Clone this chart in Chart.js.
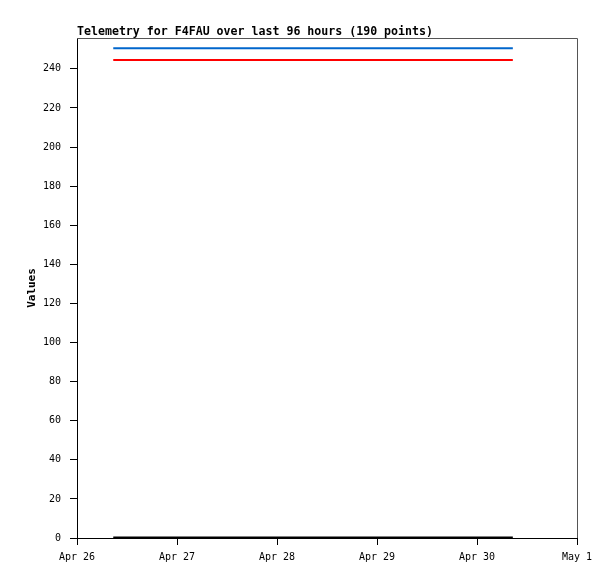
<!DOCTYPE html>
<html>
<head>
<meta charset="utf-8">
<script src="https://cdn.jsdelivr.net/npm/chart.js@4"></script>
<style>
  html, body { margin: 0; padding: 0; background: #fff; }
  #wrap { width: 615px; height: 579px; }
</style>
</head>
<body>
<div id="wrap"><canvas id="telemetryChart" width="615" height="579"></canvas></div>
<script>
/* Telemetry for F4FAU, hours counted from Apr 26 00:00 */
var hours = [8.7, 32.7, 56.7, 80.7, 104.6];
var blueValues = [250.5, 250.5, 250.5, 250.5, 250.5];
var redValues = [244.5, 244.5, 244.5, 244.5, 244.5];
var blackValues = [0.3, 0.3, 0.3, 0.3, 0.3];

var xTickHours = [0, 24, 48, 72, 96, 120];
var xTickLabels = ["Apr 26", "Apr 27", "Apr 28", "Apr 29", "Apr 30", "May 1"];
var yTicks = [0, 20, 40, 60, 80, 100, 120, 140, 160, 180, 200, 220, 240];

var titleText = "Telemetry for F4FAU over last 96 hours (190 points)";
var monoFont = "'DejaVu Sans Mono', 'Liberation Mono', monospace";

function pts(values) {
  return hours.map(function (h, i) { return {x: h, y: values[i]}; });
}

// frame + title drawn around the chart area
var framePlugin = {
  id: "frame",
  afterDraw: function (chart) {
    var a = chart.chartArea, ctx = chart.ctx;
    ctx.save();
    ctx.strokeStyle = "#555555";
    ctx.lineWidth = 1;
    ctx.beginPath();
    ctx.moveTo(a.left, a.top + 0.5);
    ctx.lineTo(a.right + 0.5, a.top + 0.5);
    ctx.lineTo(a.right + 0.5, a.bottom);
    ctx.stroke();
    ctx.fillStyle = "#000";
    ctx.font = "bold 11.6px " + monoFont;
    ctx.textAlign = "left";
    ctx.textBaseline = "alphabetic";
    ctx.fillText(titleText, a.left, a.top - 3);
    ctx.restore();
  }
};

new Chart("telemetryChart", {
  type: "line",
  data: {
    datasets: [
      {data: pts(blueValues), borderColor: "#0066cc", borderWidth: 2, pointRadius: 0},
      {data: pts(redValues), borderColor: "#ff0000", borderWidth: 2, pointRadius: 0},
      {data: pts(blackValues), borderColor: "#000000", borderWidth: 2, pointRadius: 0}
    ]
  },
  plugins: [framePlugin],
  options: {
    responsive: false,
    animation: false,
    layout: {padding: {top: 38, right: 38, bottom: 0, left: 26}},
    plugins: {
      legend: {display: false},
      title: {display: false},
      tooltip: {enabled: false}
    },
    scales: {
      x: {
        type: "linear",
        min: 0,
        max: 120,
        afterBuildTicks: function (s) { s.ticks = xTickHours.map(function (v) { return {value: v}; }); },
        afterFit: function (s) { s.height = 41; },
        border: {color: "#000", width: 1},
        grid: {drawOnChartArea: false, drawTicks: true, tickLength: 7, color: "#000"},
        ticks: {
          color: "#000",
          font: {family: monoFont, size: 10},
          padding: 6,
          maxRotation: 0,
          autoSkip: false,
          callback: function (v) { return xTickLabels[xTickHours.indexOf(v)]; }
        }
      },
      y: {
        min: 0,
        max: 255.8,
        afterBuildTicks: function (s) { s.ticks = yTicks.map(function (v) { return {value: v}; }); },
        afterFit: function (s) { s.width = 51; },
        border: {color: "#000", width: 1},
        grid: {drawOnChartArea: false, drawTicks: true, tickLength: 7, color: "#000"},
        title: {
          display: true,
          text: "Values",
          color: "#000",
          font: {family: monoFont, size: 11, weight: "bold"},
          padding: {top: 0, bottom: 0}
        },
        ticks: {
          color: "#000",
          font: {family: monoFont, size: 10},
          padding: 9,
          autoSkip: false
        }
      }
    }
  }
});
</script>
</body>
</html>
